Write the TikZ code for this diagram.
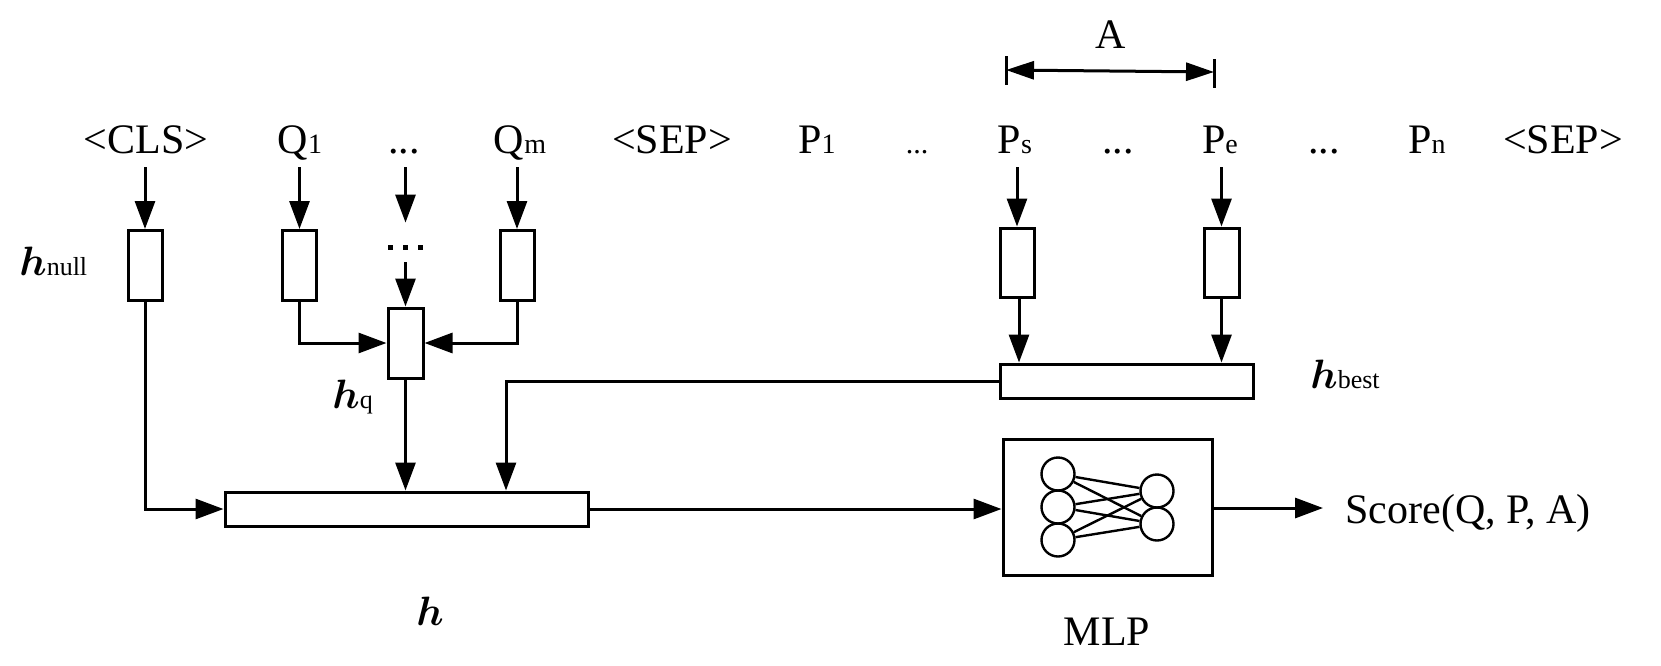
\documentclass[tikz,border=0pt]{standalone}
\usepackage{fontspec}
\setmainfont{Liberation Serif}
\usepackage{bm}
\usepackage{graphicx}
\usetikzlibrary{arrows.meta}
\newcommand\tsub[1]{{\fontsize{14}{14}\selectfont #1}}
\newcommand\hsub[1]{{\fontsize{13}{13}\selectfont #1}}
\newcommand\hvec{\scalebox{2.05}{\fontsize{10}{10}\selectfont$\bm{h}$}}
\newcommand\sqdot{\rule{2.5pt}{2.5pt}}
\begin{document}
\begin{tikzpicture}[x=0.5pt,y=-0.5pt,
  lw/.style={line width=1.5pt},
  arr/.style={lw,-{Triangle[length=14pt,width=10pt]}},
  dimarr/.style={lw,{Triangle[length=14pt,width=9pt]}-{Triangle[length=14pt,width=9pt]}},
  tok/.style={inner sep=0pt,anchor=base,font=\fontsize{21}{24}\selectfont},
  smalltok/.style={inner sep=0pt,anchor=base,font=\fontsize{15}{18}\selectfont},
  lbl/.style={inner sep=0pt,anchor=base west},
  vbox/.style={draw,lw,minimum width=17pt,minimum height=35pt,inner sep=0pt},
  hbox/.style={draw,lw,minimum height=17pt,inner sep=0pt},
  neuron/.style={circle,draw,line width=1.2pt,minimum size=16.5pt,inner sep=0pt},
  wire/.style={line width=1.2pt}]
\useasboundingbox (0,0) rectangle (1661,665);

% tokens
\node[tok] (tcls) at (146,153) {<CLS>};
\node[tok] (tq1) at (300,153) {Q\tsub{1}};
\node[tok] (tdotsa) at (404,153) {...};
\node[tok] (tqm) at (520,153) {Q\tsub{m}};
\node[tok] (tsepa) at (672,153) {<SEP>};
\node[tok] (tp1) at (817,153) {P\tsub{1}};
\node[smalltok] (tdotsb) at (917,153) {...};
\node[tok] (tps) at (1015,153) {P\tsub{s}};
\node[tok] (tdotsc) at (1118,153) {...};
\node[tok] (tpe) at (1220,153) {P\tsub{e}};
\node[tok] (tdotsd) at (1324,153) {...};
\node[tok] (tpn) at (1427,153) {P\tsub{n}};
\node[tok] (tsepb) at (1563,153) {<SEP>};

\coordinate (row) at (0,167);

% answer span
\coordinate (As) at (1006,70);
\coordinate (Ae) at (1214,72);
\draw[lw] (1006,56) -- (1006,85);
\draw[lw] (1214,59) -- (1214,88);
\draw[dimarr] (As) -- (Ae);
\node[tok] (lA) at (1111,48) {A};

% boxes
\node[vbox] (bnull) at (145,265.5) {};
\node[vbox] (bq1) at (299.5,265.5) {};
\node[vbox] (bqm) at (517,265.5) {};
\node[vbox,minimum width=17.5pt] (bhq) at (405.5,343) {};
\node[vbox,minimum height=34.5pt] (bps) at (1017,262.5) {};
\node[vbox,minimum width=17.5pt,minimum height=34.5pt] (bpe) at (1221.5,262.5) {};
\node[hbox,minimum width=126.5pt] (bbest) at (1126.5,381) {};
\node[hbox,minimum width=181.5pt] (bh) at (406.5,509) {};
\node[draw,lw,minimum width=104.5pt,minimum height=68pt,inner sep=0pt] (mlp) at (1107.5,507) {};
\node[inner sep=0pt,minimum width=17pt,minimum height=19.5pt] (vdots) at (405.5,242.5)
  {\smash{\raisebox{-3.5pt}{\sqdot\hspace{5pt}\sqdot\hspace{5pt}\sqdot}}};

% neurons
\node[neuron] (n1) at (1058,474) {};
\node[neuron] (n2) at (1058,507) {};
\node[neuron] (n3) at (1058,540) {};
\node[neuron] (n4) at (1157,491) {};
\node[neuron] (n5) at (1157,524) {};
\foreach \a in {n1,n2,n3}{\foreach \b in {n4,n5}{\draw[wire] (\a) -- (\b);}}

% labels
\node[lbl] (lnull) at (19,275) {\hvec\hsub{null}};
\node[lbl] (lq) at (332,408) {\hvec\hsub{q}};
\node[lbl] (lbest) at (1310,388) {\hvec\hsub{best}};
\node[inner sep=0pt,anchor=base] (lh) at (430,625) {\hvec};
\node[tok] (lmlp) at (1107,645) {MLP};
\node[inner sep=0pt,anchor=base west,font=\fontsize{21}{24}\selectfont] (score) at (1345,523) {Score(Q, P, A)};
\coordinate (scoretip) at (1323,508);

% connectors
\draw[arr] (bnull.north |- row) -- (bnull.north);
\draw[arr] (bq1.north |- row) -- (bq1.north);
\draw[arr] (bqm.north |- row) -- (bqm.north);
\draw[arr] (vdots.north |- row) -- (vdots.north);
\draw[arr] (vdots.south) -- (bhq.north);
\draw[arr] (bps.north |- row) -- (bps.north);
\draw[arr] (bpe.north |- row) -- (bpe.north);
\draw[arr] (bq1.south) |- (bhq.west);
\draw[arr] (bqm.south) |- (bhq.east);
\draw[arr] (bnull.south) |- (bh.west);
\draw[arr] (bhq.south) -- (bhq.south |- bh.north);
\draw[arr] (bbest.west) -| ([xshift=49.75pt]bh.north);
\draw[arr] ([xshift=1pt]bps.south) -- ([xshift=1pt]bps.south |- bbest.north);
\draw[arr] (bpe.south) -- (bpe.south |- bbest.north);
\draw[arr] (bh.east) -- (bh.east -| mlp.west);
\draw[arr] (mlp.east |- scoretip) -- (scoretip);
\end{tikzpicture}
\end{document}
